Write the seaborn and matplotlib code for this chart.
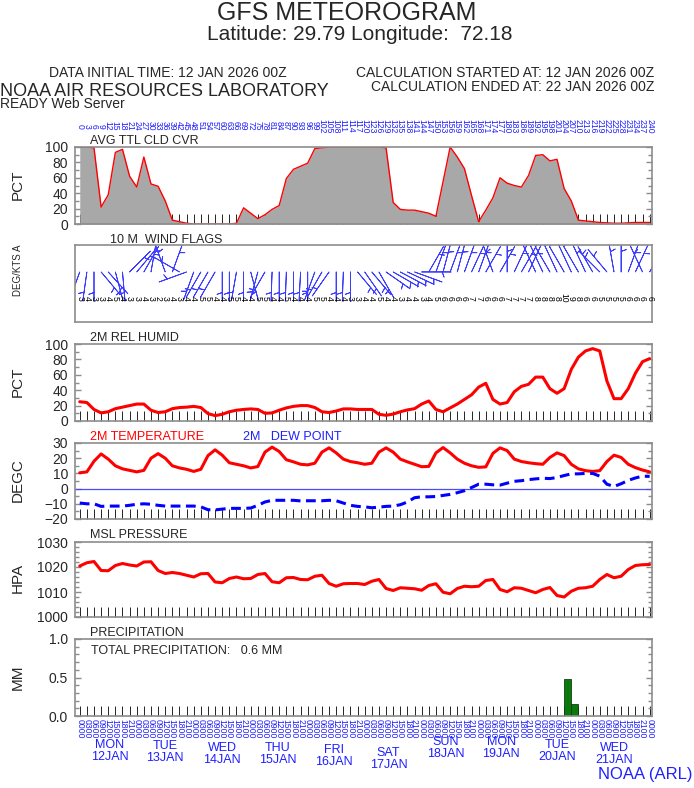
import numpy as np
import seaborn as sns
import matplotlib
matplotlib.use("Agg")
import matplotlib.pyplot as plt
from matplotlib.ticker import MultipleLocator

# forecast hours, every 3 h out to 240 h
HOURS = list(range(0, 241, 3))

CLOUD_PCT = [100, 100, 99, 22, 38, 93, 97, 62, 48, 87,
             52, 49, 30, 5, 3, 1, 0, 0, 0, 0,
             0, 0, 1, 21, 14, 7, 12, 19, 24, 59,
             71, 75, 79, 98, 99, 100, 100, 100, 100, 100,
             100, 100, 100, 99, 28, 19, 18, 18, 16, 14,
             10, 55, 100, 87, 72, 37, 3, 18, 34, 60,
             53, 50, 48, 63, 89, 90, 82, 84, 46, 30,
             5, 4, 3, 2, 1.5, 1, 1, 1.5, 2, 2,
             2]

WIND_DIR = [200, 188, 180, 140, 138, 165, 175, 45, 40, 30,
            10, 330, 340, 20, 300, 250, 200, 210, 210, 210,
            180, 180, 190, 180, 165, 195, 210, 182, 180, 182,
            180, 183, 180, 200, 210, 215, 180, 182, 180, 140,
            145, 140, 150, 125, 120, 118, 115, 110, 90, 30,
            20, 15, 20, 15, 20, 25, 20, 30, 340, 30,
            0, 25, 30, 25, 335, 335, 330, 335, 330, 335,
            330, 335, 330, 315, 320, 350, 0, 20, 25, 335,
            30]

WIND_KTS = [3, 4, 3, 3, 4, 5, 4, 3, 3, 4,
            3, 2, 3, 4, 3, 4, 4, 5, 5, 4,
            4, 5, 5, 4, 4, 5, 5, 4, 4, 5,
            4, 4, 4, 5, 5, 4, 4, 4, 3, 3,
            4, 4, 5, 4, 4, 3, 4, 4, 3, 4,
            5, 6, 6, 6, 6, 7, 7, 6, 6, 6,
            7, 7, 7, 7, 8, 8, 8, 8, 10, 9,
            8, 6, 6, 5, 5, 5, 5, 6, 6, 6,
            6]

RH_PCT = [25, 24, 15, 10.5, 12, 16, 18, 20, 22, 22,
          14, 11, 12, 16, 17.5, 18, 19, 17.5, 9.6, 7,
          8.7, 12, 14, 15, 15.7, 15, 10, 10.5, 14, 17,
          19, 20, 20, 17.5, 12, 11, 13, 15.7, 15.7, 15,
          15, 15, 8.7, 7.4, 9, 12, 14.4, 16, 22, 26,
          15, 12, 17, 22, 28, 34, 44, 49, 28, 22,
          24, 38, 45, 47.6, 57, 57, 42, 36, 42, 67,
          83, 91, 94, 91, 52, 29, 29, 42, 62, 77,
          81]

TEMP_C = [10.4, 11, 18, 22.8, 19.4, 15, 13, 12, 11, 12,
          20, 23, 20, 15, 13.6, 12.7, 11.3, 12.7, 21.7, 25.5,
          22, 17, 16, 15, 13.6, 14.5, 24, 27.3, 24.4, 19,
          17.6, 16, 15.6, 16.7, 24, 26.8, 23.5, 19.4, 17.8, 17,
          16, 16.7, 24, 26.8, 24, 19.4, 17.6, 16, 14.4, 14.6,
          23.5, 27, 23.5, 19.4, 16.7, 15, 14, 14.3, 23.2, 26.8,
          25, 19.4, 17.8, 17, 16.4, 16, 20.5, 23.5, 21.7, 16,
          13, 11.8, 11.3, 11.8, 17.8, 22, 20.5, 16, 13.8, 12.2,
          11]

DEWPT_C = [-9.5, -10, -10, -11.7, -11.5, -11.5, -11.5, -11, -10.3, -10,
           -10.3, -11, -11.5, -11.5, -11.5, -11.5, -11.5, -12, -13.9, -14,
           -13.5, -13, -13, -13, -12.8, -11, -8.8, -7.7, -7.7, -7.7,
           -7.7, -8.1, -8, -8, -8, -7.7, -8, -9.5, -11, -11.7,
           -12, -12.6, -12.2, -11.7, -11.5, -10.6, -8.8, -6, -5.4, -5.4,
           -5.2, -4.5, -3.8, -2.7, -1.4, 0.7, 2.9, 2.9, 2.5, 2.3,
           3.6, 4.8, 5.2, 5.9, 6.4, 6.8, 6.6, 7.3, 8.6, 9.7,
           9.7, 10, 10, 8.2, 2.9, 1.4, 3.2, 5.4, 7, 8.2,
           8]

PRES_HPA = [1020.4, 1021.7, 1022.2, 1018.6, 1018.5, 1020.6, 1021.4, 1020.8, 1020.4, 1022,
            1022.1, 1018.6, 1017.4, 1017.8, 1017.4, 1016.7, 1016, 1017.3, 1017.4, 1014,
            1013.7, 1015.4, 1016, 1015.3, 1015.4, 1017, 1017.4, 1014.1, 1013.7, 1015.7,
            1015.8, 1015, 1014.9, 1016.3, 1016.7, 1013.4, 1012.3, 1013.3, 1013.4, 1013.4,
            1013, 1014.3, 1015, 1011.4, 1010.6, 1011.7, 1011.5, 1011.3, 1010.7, 1012.6,
            1013.3, 1009.9, 1009.3, 1011.4, 1012.3, 1012.1, 1012.3, 1014.6, 1015, 1011,
            1010.1, 1011.7, 1011.5, 1010.6, 1009.7, 1011, 1011.8, 1008.6, 1008, 1010.3,
            1011.5, 1011.7, 1012.3, 1015, 1017, 1015.7, 1016.3, 1019, 1020.6, 1020.9,
            1021]

# 3-hour accumulation ending at each forecast hour
PRECIP_MM = [0.0] * 69 + [0.48, 0.16] + [0.0] * 10

DAY_NAMES = ["MON", "TUE", "WED", "THU", "FRI", "SAT", "SUN", "MON", "TUE", "WED"]
DAY_DATES = ["12JAN", "13JAN", "14JAN", "15JAN", "16JAN", "17JAN", "18JAN", "19JAN", "20JAN", "21JAN"]

# layout (pixels of the 694x788 picture)
W, H = 694, 788
DAY_X_HOURS = [12.5, 36, 60, 83.5, 107, 130, 154, 177.5, 201, 225]
DAY_Y_PX = [751, 752, 754, 754, 756, 759, 748, 748, 751, 754]
BLUE = "#1f1fff"
FRAME = "#8c8c8c"

sns.set_theme(style="white")
plt.rcParams["font.family"] = ["Liberation Sans Narrow", "Liberation Sans", "DejaVu Sans"]

fig = plt.figure(figsize=(W / 100, H / 100), dpi=100)


def make_axes(top, bottom):
    return fig.add_axes([75 / W, 1 - bottom / H, 577 / W, (bottom - top) / H])


def style(ax, lo, hi, major, minor, fmt=None):
    ax.set_xlim(-2, 241)
    ax.set_ylim(lo, hi)
    ax.set_xticks(HOURS)
    ax.tick_params(axis="x", direction="in", length=7, width=0.6, color="black",
                   bottom=True, top=False, labelbottom=False)
    ax.yaxis.set_major_locator(MultipleLocator(major))
    ax.yaxis.set_minor_locator(MultipleLocator(minor))
    ax.tick_params(axis="y", which="both", direction="in", left=True, right=True,
                   color=FRAME, width=1, labelsize=10, pad=5)
    ax.tick_params(axis="y", which="major", length=4)
    ax.tick_params(axis="y", which="minor", length=3)
    if fmt:
        ax.yaxis.set_major_formatter(fmt)
    ax.set_xlabel("")
    ax.set_ylabel("")
    for s in ax.spines.values():
        s.set_color(FRAME)
        s.set_linewidth(1.2)


def fig_text(x, y, s, **kw):
    fig.text(x / W, 1 - y / H, s, **kw)


# ---- header
fig_text(347, 13, "GFS METEOROGRAM", ha="center", va="center", fontsize=18)
fig_text(360, 35, "Latitude: 29.79 Longitude:  72.18", ha="center", va="center", fontsize=15)
fig_text(168, 73, "DATA INITIAL TIME: 12 JAN 2026 00Z", ha="center", va="center", fontsize=10)
fig_text(654, 73, "CALCULATION STARTED AT: 12 JAN 2026 00Z", ha="right", va="center", fontsize=10)
fig_text(654, 87, "CALCULATION ENDED AT: 22 JAN 2026 00Z", ha="right", va="center", fontsize=10)
fig_text(0, 91, "NOAA AIR RESOURCES LABORATORY", ha="left", va="center", fontsize=13)
fig_text(0, 104, "READY Web Server", ha="left", va="center", fontsize=10)
fig_text(692, 775, "NOAA (ARL)", ha="right", va="center", fontsize=12, color=BLUE)

# ---- cloud cover
ax = make_axes(147, 224)
ax.fill_between(HOURS, CLOUD_PCT, color="#a8a8a8", lw=0)
sns.lineplot(x=HOURS, y=CLOUD_PCT, ax=ax, color="red", linewidth=1)
style(ax, 0, 100, 20, 10)
for h in HOURS:
    ax.text(h, 1.273, str(h), transform=ax.get_xaxis_transform(), rotation=-90,
            ha="center", va="center", fontsize=6.2, color=BLUE)
fig_text(90, 141, "AVG TTL CLD CVR", ha="left", va="center", fontsize=9)
fig_text(18, 185, "PCT", ha="center", va="center", rotation=90, fontsize=11)

# ---- wind
ax = make_axes(245, 322)
hrs = np.array(HOURS, dtype=float)
rad = np.deg2rad(WIND_DIR)
spd = np.array(WIND_KTS, dtype=float)
u = -spd * np.sin(rad)
v = -spd * np.cos(rad)
ax.set_xlim(-2, 241)
ax.set_ylim(0, 1)
ax.barbs(hrs, np.full_like(hrs, 0.65), u, v, length=6.5, color="#3c3cff",
         linewidth=0.6, sizes=dict(emptybarb=0, spacing=0.2, height=0.35))
for h, k in zip(HOURS, WIND_KTS):
    ax.text(h, 0.31, str(k), rotation=-90, ha="center", va="center", fontsize=6.2, color="black")
ax.set_xticks([])
ax.set_yticks([])
for s in ax.spines.values():
    s.set_color(FRAME)
    s.set_linewidth(1.2)
fig_text(110, 240, "10 M  WIND FLAGS", ha="left", va="center", fontsize=9)
fig_text(18, 270, "DEG/KTS A", ha="center", va="center", rotation=90, fontsize=7)

# ---- relative humidity
ax = make_axes(344, 421)
sns.lineplot(x=HOURS, y=RH_PCT, ax=ax, color="red", linewidth=2.2)
style(ax, 0, 100, 20, 10)
fig_text(90, 338, "2M REL HUMID", ha="left", va="center", fontsize=9)
fig_text(18, 382, "PCT", ha="center", va="center", rotation=90, fontsize=11)

# ---- temperature / dew point
ax = make_axes(443, 519)
ax.axhline(0, color="#4a4aff", linewidth=0.9)
sns.lineplot(x=HOURS, y=TEMP_C, ax=ax, color="red", linewidth=2.2)
sns.lineplot(x=HOURS, y=DEWPT_C, ax=ax, color="blue", linewidth=2.2,
             linestyle=(0, (3.2, 1.8)))
style(ax, -20, 30, 10, 5)
fig_text(90, 437, "2M TEMPERATURE", ha="left", va="center", fontsize=9, color="red")
fig_text(243, 437, "2M   DEW POINT", ha="left", va="center", fontsize=9, color=BLUE)
fig_text(18, 480, "DEGC", ha="center", va="center", rotation=90, fontsize=11)

# ---- pressure
ax = make_axes(542, 617)
sns.lineplot(x=HOURS, y=PRES_HPA, ax=ax, color="red", linewidth=2.2)
style(ax, 1000, 1030, 10, 2)
fig_text(90, 535, "MSL PRESSURE", ha="left", va="center", fontsize=9)
fig_text(18, 578, "HPA", ha="center", va="center", rotation=90, fontsize=11)

# ---- precipitation (bar spans the 3 h ending at the forecast hour)
ax = make_axes(639, 716)
sns.barplot(x=hrs - 1.5, y=PRECIP_MM, native_scale=True, width=1, ax=ax,
            color="#0a7a0a", saturation=1, edgecolor="#1a3a1a", linewidth=0.6)
style(ax, 0, 1.0, 0.5, 0.1, fmt="{x:.1f}")
ax.text(0.027, 0.84, f"TOTAL PRECIPITATION:   {sum(PRECIP_MM):.1f} MM",
        transform=ax.transAxes, ha="left", va="center", fontsize=9)
fig_text(90, 633, "PRECIPITATION", ha="left", va="center", fontsize=9)
fig_text(18, 677, "MM", ha="center", va="center", rotation=90, fontsize=11)

# bottom time labels
for h in HOURS:
    ax.text(h, -0.16, f"{(h % 24) * 100:04d}", transform=ax.get_xaxis_transform(),
            rotation=-90, ha="center", va="center", fontsize=6.2, color=BLUE)
for xh, yp, name, date in zip(DAY_X_HOURS, DAY_Y_PX, DAY_NAMES, DAY_DATES):
    ax.text(xh, -(yp - 716) / 77, f"{name}\n{date}", transform=ax.get_xaxis_transform(),
            ha="center", va="center", fontsize=9, color=BLUE, linespacing=0.95)

fig.savefig("out.png", dpi=100)
